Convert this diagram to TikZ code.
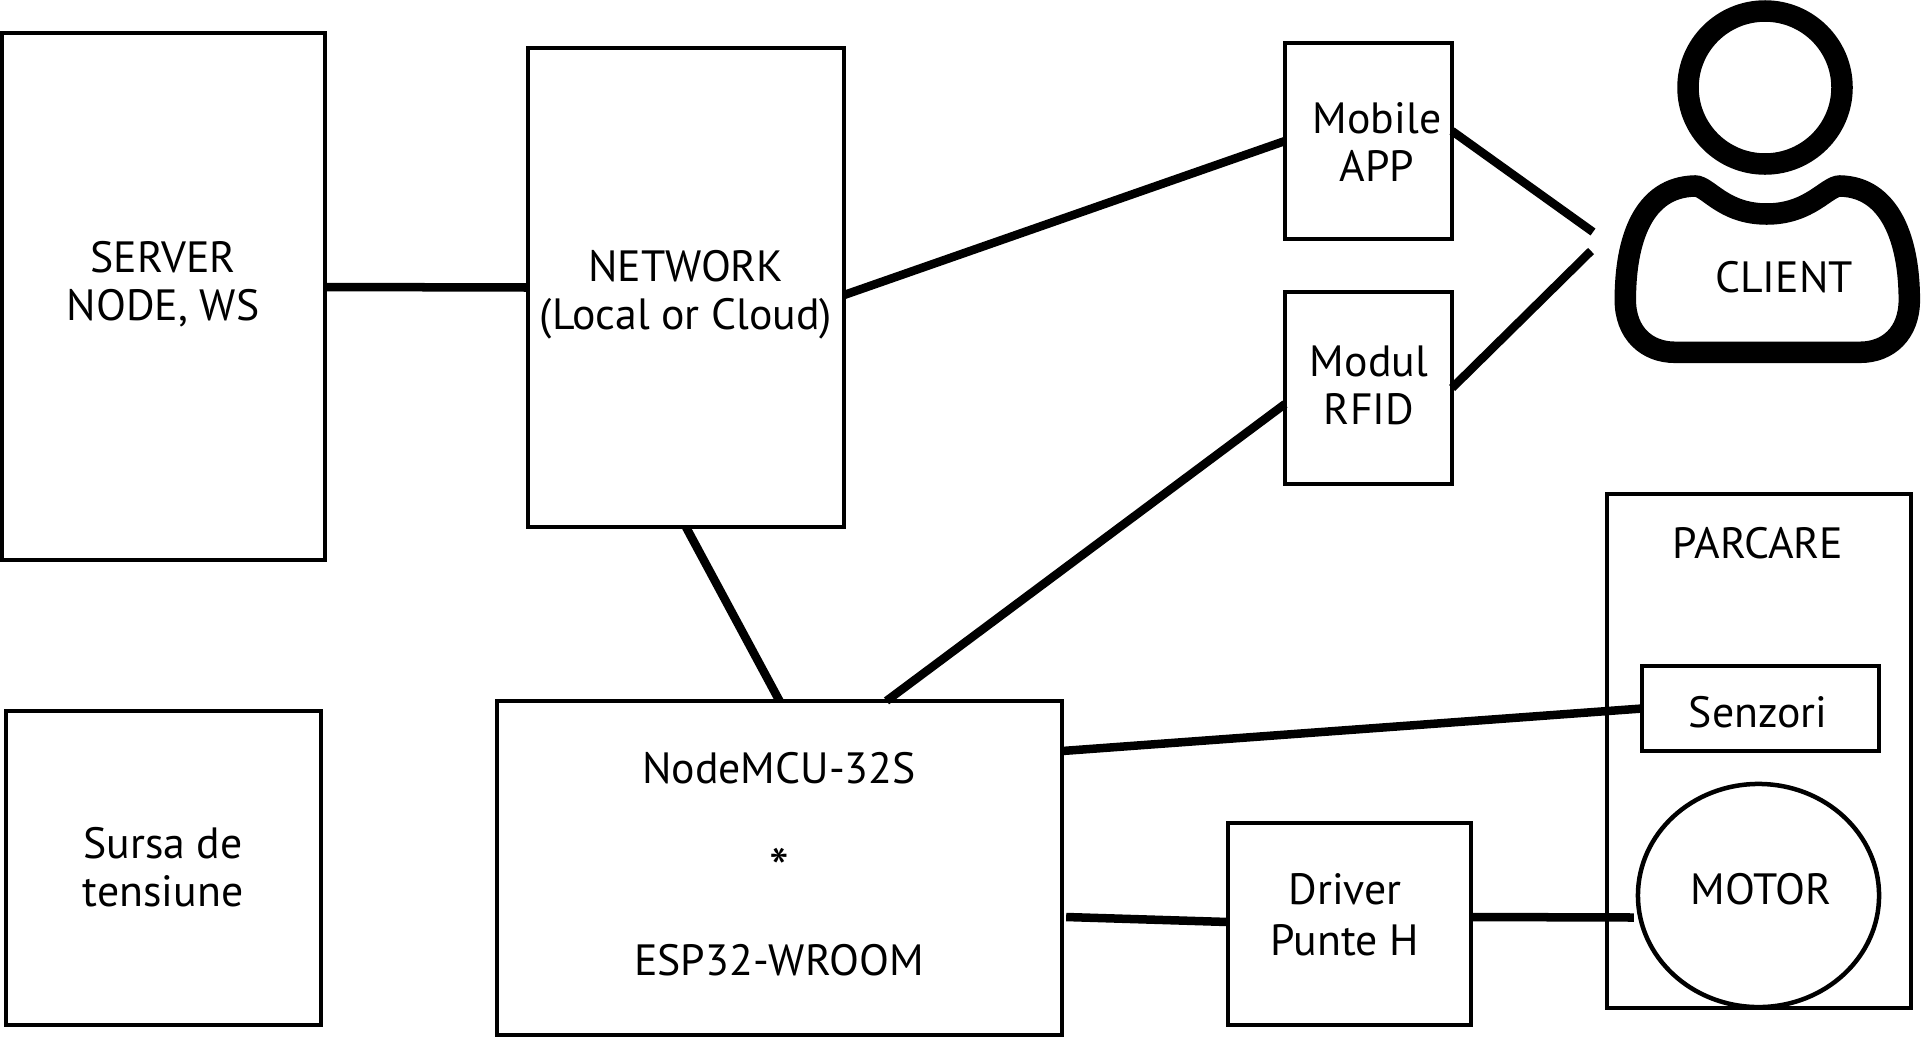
\documentclass[tikz,border=0pt]{standalone}
\usepackage{fontspec}
\setmainfont{PT Sans}
\usetikzlibrary{shapes.geometric}
\tikzset{
 box/.style={draw=black, line width=0.045cm, inner sep=0pt, outer sep=0pt},
 oval/.style={box, ellipse},
 txt/.style={align=center, inner sep=0pt, font=\fontsize{12.45}{13.6}\selectfont},
 wire/.style={draw=black, line width=0.085cm},
 figure/.style={draw=black, line width=0.215cm},
}

\begin{document}
\begin{tikzpicture}[x=0.01cm, y=-0.01cm]
        \useasboundingbox (0, 0) rectangle (1921, 1039);
        % boxes
        \node[box, minimum width=3.23cm, minimum height=5.27cm] (server) at (163.5, 296.5) {};
        \node[box, minimum width=3.16cm, minimum height=4.79cm] (network) at (686, 287.5) {};
        \node[box, minimum width=1.67cm, minimum height=1.96cm] (mobile) at (1368.5, 141) {};
        \node[box, minimum width=1.67cm, minimum height=1.92cm] (rfid) at (1368.5, 388) {};
        \node[box, minimum width=3.15cm, minimum height=3.14cm] (sursa) at (163.5, 868) {};
        \node[box, minimum width=5.65cm, minimum height=3.34cm] (nodemcu) at (779.5, 868) {};
        \node[box, minimum width=2.43cm, minimum height=2.02cm] (driver) at (1349.5, 924) {};
        \node[box, minimum width=3.04cm, minimum height=5.14cm] (parcare) at (1759, 751) {};
        \node[box, minimum width=2.37cm, minimum height=0.85cm] (senzori) at (1760.5, 708.5) {};
        \node[oval, minimum width=2.41cm, minimum height=2.23cm] (motor) at (1758.5, 895.5) {};

        % texts
        \node[txt] (servertxt) at (163, 284) {SERVER\\NODE, WS};
        \node[txt] (networktxt) at (686, 295) {NETWORK\\(Local or Cloud)};
        \node[txt] (mobiletxt) at (1377, 142) {Mobile\\APP};
        \node[txt] (rfidtxt) at (1369, 385) {Modul\\RFID};
        \node[txt] (sursatxt) at (163, 867) {Sursa de\\tensiune};
        \node[txt] (mcutop) at (779, 768) {NodeMCU-32S};
        \node[txt, font=\fontsize{16}{16}\selectfont] (mcustar) at (779, 868) {*};
        \node[txt] (mcubot) at (779, 960) {ESP32-WROOM};
        \node[txt] (drivertxt) at (1345, 915) {Driver\\[1pt]Punte H};
        \node[txt] (parcaretxt) at (1758, 543) {PARCARE};
        \node[txt] (senzoritxt) at (1758, 712) {Senzori};
        \node[txt] (motortxt) at (1761, 889) {MOTOR};
        \node[txt] (clienttxt) at (1784, 277) {CLIENT};

        % client figure
        \draw[figure] (1765, 87.5) ellipse (77 and 76.5);
        \draw[figure] (1695, 186) .. controls (1643, 187) and (1625.3, 240) .. (1625.3, 300)
            .. controls (1625.3, 333) and (1646.7, 352.3) .. (1675, 352.3) -- (1860, 352.3)
            .. controls (1888.3, 352.3) and (1909.3, 333) .. (1909.3, 300)
            .. controls (1909.3, 240) and (1890, 187) .. (1840, 186)
            .. controls (1826.7, 186) and (1810, 214) .. (1766.7, 214)
            .. controls (1723, 214) and (1708, 186) .. (1695, 186) -- cycle;

        % connectors
        \coordinate (clienta) at (1593, 232);
        \coordinate (clientb) at (1591, 251);
        \draw[wire] ([shift={(0, -9.5)}]server.east) -- (network.west);
        \draw[wire] ([shift={(0, 7.5)}]network.east) -- (mobile.west);
        \draw[wire] (network.south) -- (nodemcu.north);
        \draw[wire] ([shift={(107, 0)}]nodemcu.north) -- ([shift={(0, 16)}]rfid.west);
        \draw[wire] ([shift={(0, -10)}]mobile.east) -- (clienta);
        \draw[wire] (rfid.east) -- (clientb);
        \draw[wire] ([shift={(0, -117)}]nodemcu.east) -- (senzori.west);
        \draw[wire] ([shift={(4, 49)}]nodemcu.east) -- ([shift={(0, -2)}]driver.west);
        \draw[wire] ([shift={(0, -7)}]driver.east) -- ([shift={(-4, 22)}]motor.west);
    \end{tikzpicture}
\end{document}
